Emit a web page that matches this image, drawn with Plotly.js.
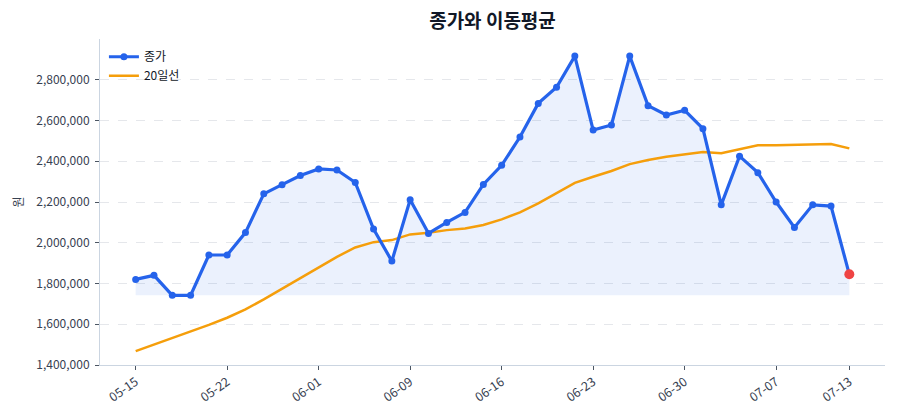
<!DOCTYPE html>
<html>
<head>
<meta charset="utf-8">
<script src="https://cdn.plot.ly/plotly-3.0.1.min.js"></script>
<style>
  html, body { margin: 0; padding: 0; background: #ffffff; }
  #chart { width: 900px; height: 420px; }
</style>
</head>
<body>
<div id="chart"></div>
<script>
// Trading days (MM-DD)
const dates = [
  '05-15','05-18','05-19','05-20','05-21','05-22','05-26','05-27','05-28','05-29',
  '06-01','06-02','06-04','06-05','06-08','06-09','06-10','06-11','06-12','06-15',
  '06-16','06-17','06-18','06-19','06-22','06-23','06-24','06-25','06-26','06-29',
  '06-30','07-01','07-02','07-03','07-06','07-07','07-08','07-09','07-10','07-13'
];

// Closing price (원)
const closePrice = [
  1820000, 1840000, 1742000, 1742000, 1940000, 1940000, 2050000, 2240000, 2285000, 2330000,
  2362000, 2357000, 2296000, 2067000, 1910000, 2211000, 2046000, 2100000, 2149000, 2286000,
  2380000, 2519000, 2684000, 2763000, 2916000, 2553000, 2578000, 2916000, 2673000, 2627000,
  2650000, 2560000, 2186000, 2425000, 2344000, 2200000, 2075000, 2186000, 2180000, 1845000
];

// 20-day moving average (원)
const ma20 = [
  1468000, 1500000, 1532000, 1563000, 1597000, 1632000, 1673000, 1722000, 1774000, 1826000,
  1878000, 1931000, 1977000, 2003000, 2013000, 2041000, 2049000, 2062000, 2070000, 2087000,
  2115000, 2149000, 2193000, 2242000, 2294000, 2324000, 2352000, 2386000, 2406000, 2422000,
  2435000, 2445000, 2439000, 2458000, 2478000, 2478000, 2480000, 2483000, 2485000, 2463000
];

const xTickLabels = ['05-15','05-22','06-01','06-09','06-16','06-23','06-30','07-07','07-13'];
const yTickValues = [1400000, 1600000, 1800000, 2000000, 2200000, 2400000, 2600000, 2800000];

const BLUE = '#2563eb';
const ORANGE = '#f59e0b';
const RED = '#ef4444';
const FONT = '"Noto Sans CJK KR", "Noto Sans", sans-serif';

// shaded band from the lowest close up to the close line
const floorValue = Math.min(...closePrice);
const floorLine = closePrice.map(() => floorValue);

const lastIdx = dates.length - 1;

const traces = [
  {
    x: dates, y: floorLine, type: 'scatter', mode: 'lines',
    line: { width: 0, color: 'rgba(0,0,0,0)' },
    hoverinfo: 'skip', showlegend: false
  },
  {
    x: dates, y: closePrice, type: 'scatter', mode: 'lines',
    fill: 'tonexty', fillcolor: 'rgba(37,99,235,0.09)',
    line: { width: 0, color: 'rgba(0,0,0,0)' },
    hoverinfo: 'skip', showlegend: false
  },
  {
    x: dates, y: ma20, type: 'scatter', mode: 'lines', name: '20일선',
    line: { color: ORANGE, width: 2.5 }
  },
  {
    x: dates, y: closePrice, type: 'scatter', mode: 'lines+markers', name: '종가',
    line: { color: BLUE, width: 3.2 },
    marker: { color: BLUE, size: 7 }
  },
  {
    x: [dates[lastIdx]], y: [closePrice[lastIdx]], type: 'scatter', mode: 'markers',
    marker: { color: RED, size: 10 },
    showlegend: false
  }
];

const layout = {
  width: 900, height: 420,
  paper_bgcolor: '#ffffff', plot_bgcolor: '#ffffff',
  margin: { l: 100, r: 15, t: 39, b: 55 },
  font: { family: FONT, size: 12, color: '#374151' },
  title: {
    text: '<b>종가와 이동평균</b>',
    x: 0.5, xref: 'paper', y: 0.949, yref: 'container', yanchor: 'middle',
    font: { family: FONT, size: 19, color: '#111827' }
  },
  showlegend: true,
  legend: {
    x: 0.005, y: 0.99, xanchor: 'left', yanchor: 'top',
    bgcolor: 'rgba(255,255,255,0)', borderwidth: 0,
    font: { family: FONT, size: 12, color: '#111827' },
    traceorder: 'reversed'
  },
  xaxis: {
    type: 'category',
    range: [-1.95, lastIdx + 1.95],
    tickmode: 'array', tickvals: xTickLabels, ticktext: xTickLabels,
    tickangle: -35,
    ticks: 'outside', ticklen: 4, tickcolor: '#4b5563', tickwidth: 1,
    showline: true, linecolor: '#cbd5e1', linewidth: 1,
    showgrid: false, zeroline: false,
    tickfont: { family: FONT, size: 12.5, color: '#374151' }
  },
  yaxis: {
    range: [1400000, 3000000],
    tickmode: 'array', tickvals: yTickValues,
    tickformat: ',d',
    ticks: 'outside', ticklen: 4, tickcolor: '#4b5563', tickwidth: 1,
    ticklabelstandoff: 3,
    showline: true, linecolor: '#cbd5e1', linewidth: 1,
    showgrid: true, gridcolor: '#e5e7eb', griddash: 'dash', gridwidth: 1,
    zeroline: false,
    tickfont: { family: FONT, size: 12, color: '#374151' },
    title: { text: '원', standoff: 10, font: { family: FONT, size: 12, color: '#374151' } }
  }
};

Plotly.newPlot('chart', traces, layout, { displayModeBar: false, staticPlot: true });
</script>
</body>
</html>
